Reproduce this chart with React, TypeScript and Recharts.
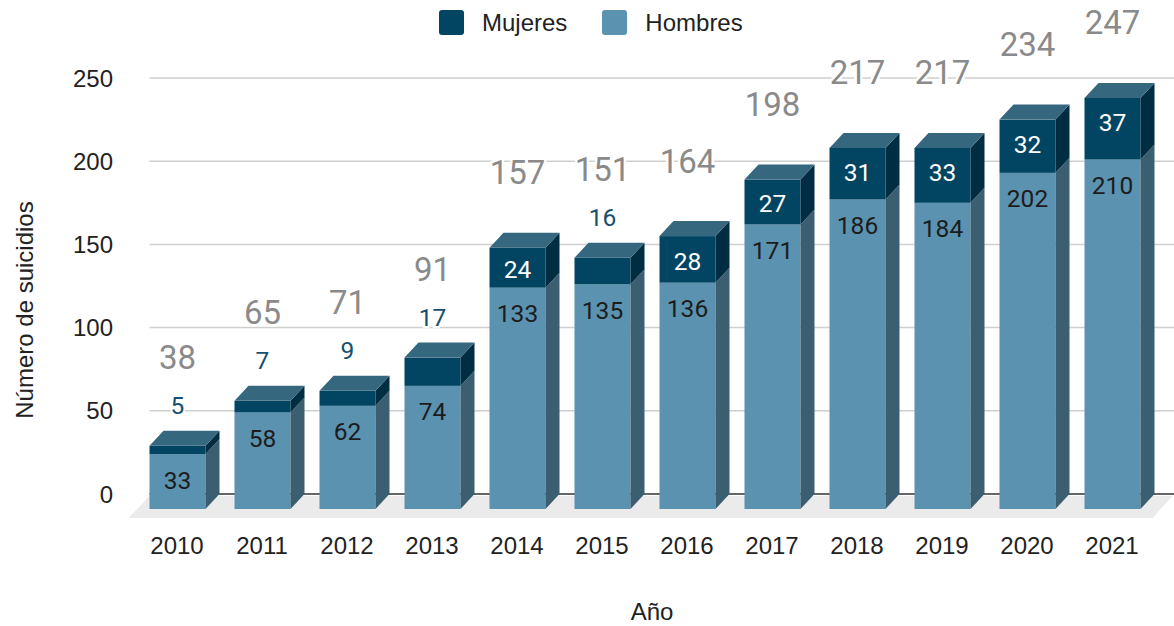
import React from "react"
import { BarChart, Bar, XAxis, YAxis, CartesianGrid, LabelList } from "recharts"

const years = ["2010", "2011", "2012", "2013", "2014", "2015", "2016", "2017", "2018", "2019", "2020", "2021"]
const hombres = [33, 58, 62, 74, 133, 135, 136, 171, 186, 184, 202, 210]
const mujeres = [5, 7, 9, 17, 24, 16, 28, 27, 31, 33, 32, 37]
const yTicks = [0, 50, 100, 150, 200, 250]

const data = years.map((year, i) => ({
  year,
  hombres: hombres[i],
  mujeres: mujeres[i],
  total: hombres[i] + mujeres[i],
}))

// depth of the fake 3d boxes
const DX = 14
const DY = 15
const SMALL = 35

const axisFont = '"Liberation Sans", Arial, sans-serif'
const labelFont = "Roboto, sans-serif"

const box = (p: any) => (p.viewBox ? { ...p.viewBox, value: p.value } : p)

function HombresShape(props: any) {
  const { x, y, width: w, height: h } = props
  const fy = y + DY
  return (
    <g>
      <rect x={x} y={fy} width={w} height={h} fill="#5a92b0" />
      <polygon points={`${x + w},${fy} ${x + w + DX},${y} ${x + w + DX},${y + h} ${x + w},${fy + h}`} fill="#3c5e71" />
    </g>
  )
}

function MujeresShape(props: any) {
  const { x, y, width: w, height: h } = props
  const fy = y + DY
  return (
    <g>
      <rect x={x} y={fy} width={w} height={h} fill="#024562" />
      <polygon points={`${x + w},${fy} ${x + w + DX},${y} ${x + w + DX},${y + h} ${x + w},${fy + h}`} fill="#002d42" />
      <polygon points={`${x},${fy} ${x + w},${fy} ${x + w + DX},${y} ${x + DX},${y}`} fill="#35677e" />
    </g>
  )
}

function hombresLabel(props: any) {
  const { x, y, width, height, value } = box(props)
  const top = y + DY
  return (
    <text x={x + width / 2} y={top + Math.min(26, height / 2 + 2)} textAnchor="middle" dominantBaseline="central"
      fontFamily={labelFont} fontSize={24.5} fill="#1c1c1c">
      {value}
    </text>
  )
}

function mujeresLabel(props: any) {
  const { x, y, width, height, value } = box(props)
  const cx = x + width / 2
  if (height < SMALL) {
    return (
      <text x={cx} y={y - 25} textAnchor="middle" dominantBaseline="central" fontFamily={labelFont} fontSize={24.5}
        fill="#15506e" stroke="#fff" strokeWidth={4} paintOrder="stroke">
        {value}
      </text>
    )
  }
  return (
    <text x={cx} y={y + DY + Math.min(25, height / 2 + 2)} textAnchor="middle" dominantBaseline="central"
      fontFamily={labelFont} fontSize={24.5} fill="#ffffff">
      {value}
    </text>
  )
}

function totalLabel(props: any) {
  const { x, y, width, height, value } = box(props)
  const off = height < SMALL ? 73 : 60
  return (
    <text x={x + width / 2} y={y - off} textAnchor="middle" dominantBaseline="central" fontFamily={labelFont}
      fontSize={33} fill="#8a8a8a" stroke="#fff" strokeWidth={5} paintOrder="stroke">
      {value}
    </text>
  )
}

function gridLine(props: any) {
  const { x1, x2, y1 } = props
  const bottom = props.y !== undefined && props.height !== undefined ? props.y + props.height : 494
  if (Math.abs(y1 - bottom) < 1) {
    return (
      <g key={props.key}>
        <line x1={x1 + 15} x2={x2 + 20} y1={y1} y2={y1} stroke="#333" strokeWidth={1.5} />
        <polygon
          points={`${x1 + 15},${y1 + 2} ${x2 + 18},${y1 + 2} ${x2 - 2},${y1 + 24} ${x1 - 6},${y1 + 24}`}
          fill="#ebebeb"
        />
      </g>
    )
  }
  return <line key={props.key} x1={x1 + 15} x2={x2 + 20} y1={y1} y2={y1} stroke="#cfcfcf" strokeWidth={1.5} />
}

const legendItems = [
  { name: "Mujeres", color: "#024562" },
  { name: "Hombres", color: "#5a92b0" },
]

export default function App() {
  return (
    <div style={{ position: "absolute", left: 0, top: 0, width: 1174, height: 626, background: "#fff" }}>
      <div style={{ position: "absolute", left: 439, top: 10, display: "flex", alignItems: "center", height: 25 }}>
        {legendItems.map((it) => (
          <div key={it.name} style={{ display: "flex", alignItems: "center", marginRight: 35 }}>
            <div style={{ width: 25, height: 25, borderRadius: 3, background: it.color, marginRight: 18 }} />
            <span style={{ fontFamily: axisFont, fontSize: 24, color: "#222", lineHeight: "25px" }}>{it.name}</span>
          </div>
        ))}
      </div>
      <BarChart width={1174} height={626} data={data} margin={{ top: 78, right: 19.5, bottom: 0, left: 0 }}>
        <CartesianGrid vertical={false} horizontal={gridLine} />
        <XAxis
          dataKey="year"
          height={132}
          axisLine={false}
          tickLine={false}
          tickSize={0}
          tickMargin={43}
          tick={{ fontFamily: axisFont, fontSize: 24, fill: "#222" }}
          label={{
            content: () => (
              <text x={652} y={620} textAnchor="middle" fontFamily={axisFont} fontSize={24} fill="#222">
                Año
              </text>
            ),
          }}
        />
        <YAxis
          width={134.5}
          domain={[0, 250]}
          ticks={yTicks}
          axisLine={false}
          tickLine={false}
          tickSize={0}
          tickMargin={21.5}
          tick={{ fontFamily: axisFont, fontSize: 24, fill: "#222" }}
          label={{
            content: () => (
              <text x={24} y={310} transform="rotate(-90 24 310)" textAnchor="middle" dominantBaseline="central"
                fontFamily={axisFont} fontSize={24} fill="#222">
                Número de suicidios
              </text>
            ),
          }}
        />
        <Bar dataKey="hombres" name="Hombres" stackId="a" barSize={56} shape={HombresShape} isAnimationActive={false}>
          <LabelList dataKey="hombres" content={hombresLabel} />
        </Bar>
        <Bar dataKey="mujeres" name="Mujeres" stackId="a" barSize={56} shape={MujeresShape} isAnimationActive={false}>
          <LabelList dataKey="mujeres" content={mujeresLabel} />
          <LabelList dataKey="total" content={totalLabel} />
        </Bar>
      </BarChart>
    </div>
  )
}
